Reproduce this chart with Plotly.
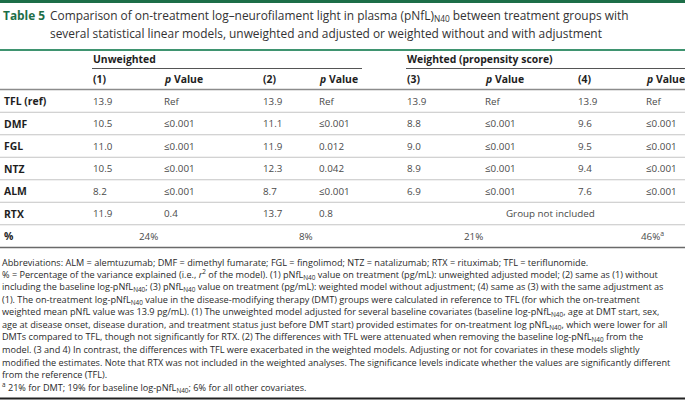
import plotly.graph_objects as go

# ---------------- data ----------------
groups = ["TFL (ref)", "DMF", "FGL", "NTZ", "ALM", "RTX"]
model1 = ["13.9", "10.5", "11.0", "10.5", "8.2", "11.9"]
pval1 = ["Ref", "≤0.001", "≤0.001", "≤0.001", "≤0.001", "0.4"]
model2 = ["13.9", "11.1", "11.9", "12.3", "8.7", "13.7"]
pval2 = ["Ref", "≤0.001", "0.012", "0.042", "≤0.001", "0.8"]
model3 = ["13.9", "8.8", "9.0", "8.9", "6.9", None]
pval3 = ["Ref", "≤0.001", "≤0.001", "≤0.001", "≤0.001", None]
model4 = ["13.9", "9.6", "9.5", "9.4", "7.6", None]
pval4 = ["Ref", "≤0.001", "≤0.001", "≤0.001", "≤0.001", None]
r2_label = "%"
r2_values = ["24%", "8%", "21%", "46%<sup>a</sup>"]
not_included = "Group not included"
group_headers = ["Unweighted", "Weighted (propensity score)"]
col_headers = ["(1)", "<i>p</i> Value", "(2)", "<i>p</i> Value",
               "(3)", "<i>p</i> Value", "(4)", "<i>p</i> Value"]

title_tag = "Table 5"
title_line1 = "Comparison of on-treatment log–neurofilament light in plasma (pNfL)<sub>N40</sub> between treatment groups with"
title_line2 = "several statistical linear models, unweighted and adjusted or weighted without and with adjustment"

N = "pNfL<sub>N40</sub>"
footnotes = [
    "Abbreviations: ALM = alemtuzumab; DMF = dimethyl fumarate; FGL = fingolimod; NTZ = natalizumab; RTX = rituximab; TFL = teriflunomide.",
    f"% = Percentage of the variance explained (i.e., <i>r</i><sup>2</sup> of the model). (1) {N} value on treatment (pg/mL): unweighted adjusted model; (2) same as (1) without",
    f"including the baseline log-{N}; (3) {N} value on treatment (pg/mL): weighted model without adjustment; (4) same as (3) with the same adjustment as",
    f"(1). The on-treatment log-{N} value in the disease-modifying therapy (DMT) groups were calculated in reference to TFL (for which the on-treatment",
    f"weighted mean pNfL value was 13.9 pg/mL). (1) The unweighted model adjusted for several baseline covariates (baseline log-{N}, age at DMT start, sex,",
    f"age at disease onset, disease duration, and treatment status just before DMT start) provided estimates for on-treatment log {N}, which were lower for all",
    f"DMTs compared to TFL, though not significantly for RTX. (2) The differences with TFL were attenuated when removing the baseline log-{N} from the",
    "model. (3 and 4) In contrast, the differences with TFL were exacerbated in the weighted models. Adjusting or not for covariates in these models slightly",
    "modified the estimates. Note that RTX was not included in the weighted analyses. The significance levels indicate whether the values are significantly different",
    "from the reference (TFL).",
    f"<sup>a</sup> 21% for DMT; 19% for baseline log-{N}; 6% for all other covariates.",
]

# ---------------- layout constants ----------------
W, H = 685, 403
FONT = "Open Sans"
NARROW = "Liberation Sans Narrow, Open Sans"
GREEN = "#1d6e48"
TXT = "#1e1e1e"
VAL = "#4a4a4a"
BOLD_SIZE = 10.4
VAL_SIZE = 9.8
col_x = [92, 163, 262, 318, 406, 484, 577, 645]
label_x = 3
row_y0, row_dy = 101, 22.5
r2_x = [148, 306, 473, 652]

fig = go.Figure()
fig.add_trace(go.Scatter(x=[0, W], y=[0, H], mode="markers",
                         marker=dict(opacity=0), hoverinfo="skip", showlegend=False))

ann = []
shapes = []

def text(x, y, s, size=VAL_SIZE, color=VAL, family=FONT, anchor="left"):
    ann.append(dict(x=x, y=y, xref="x", yref="y", text=s, showarrow=False,
                    xanchor=anchor, yanchor="middle", align=anchor,
                    font=dict(family=family, size=size, color=color), borderpad=0))

def hline(x0, x1, y, color, width):
    shapes.append(dict(type="line", xref="x", yref="y", x0=x0, x1=x1, y0=y, y1=y,
                       line=dict(color=color, width=width)))

# top bar
shapes.append(dict(type="rect", xref="x", yref="y", x0=0, x1=W, y0=0, y1=3,
                   fillcolor=GREEN, line=dict(width=0)))
# title
text(2, 15, f"<b>{title_tag}</b>", size=11.9, color=GREEN)
text(49, 15, title_line1, size=11.9, color="#333333")
text(49, 33, title_line2, size=11.9, color="#333333")
hline(0, W, 50, "#3f9470", 2)

# group headers
text(col_x[0], 59, f"<b>{group_headers[0]}</b>", size=BOLD_SIZE, color=TXT)
text(col_x[4], 59, f"<b>{group_headers[1]}</b>", size=BOLD_SIZE, color=TXT)
hline(col_x[0], 362, 68.5, "#555555", 1)
hline(col_x[4], W, 68.5, "#555555", 1)
for x, h in zip(col_x, col_headers):
    text(x, 79, f"<b>{h}</b>", size=BOLD_SIZE, color=TXT)
hline(0, W, 89.5, "#8c8c8c", 1.5)

# body rows
cols = [model1, pval1, model2, pval2, model3, pval3, model4, pval4]
for i, g in enumerate(groups):
    y = row_y0 + i * row_dy
    text(label_x, y, f"<b>{g}</b>", size=BOLD_SIZE, color=TXT)
    for x, col in zip(col_x, cols):
        if col[i] is not None:
            text(x, y, col[i])
    if all(c[i] is None for c in cols[4:]):
        text(550, y, not_included, anchor="center")
    hline(0, W, y + 11.25, "#c4c4c4", 1)

# r2 row
y = row_y0 + len(groups) * row_dy
text(label_x, y, f"<b>{r2_label}</b>", size=BOLD_SIZE, color=TXT)
for x, v in zip(r2_x, r2_values):
    text(x, y, v, anchor="center")
hline(0, W, y + 11.5, "#6a6a6a", 1.5)

# footnotes
for k, line in enumerate(footnotes):
    text(1, 262 + k * 12.5, line, size=9.15, color="#2a2a2a", family=NARROW)

hline(0, W, 398.5, "#222222", 2)

fig.update_layout(
    width=W, height=H, margin=dict(l=0, r=0, t=0, b=0),
    paper_bgcolor="white", plot_bgcolor="white",
    xaxis=dict(range=[0, W], visible=False, fixedrange=True),
    yaxis=dict(range=[H, 0], visible=False, fixedrange=True),
    annotations=ann, shapes=shapes, showlegend=False,
)
fig.write_html("out.html", config={"displayModeBar": False},
               post_script="document.body.style.margin='0px';document.body.style.overflow='hidden';")
